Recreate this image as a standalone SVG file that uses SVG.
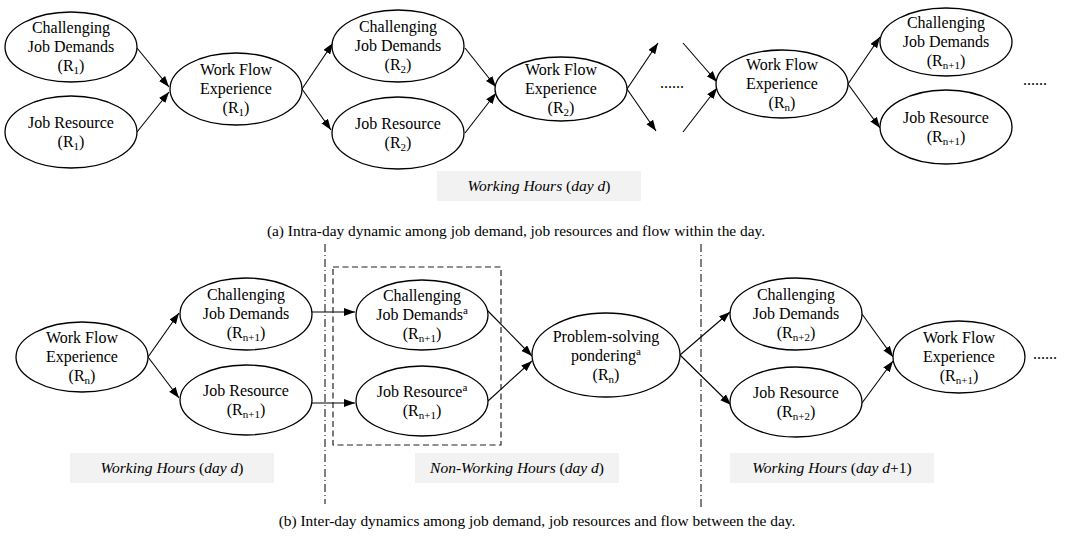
<svg xmlns="http://www.w3.org/2000/svg" width="1070" height="536" viewBox="0 0 1070 536">
<style>
.n{fill:#fff;stroke:#000;stroke-width:1.3}
.t{font-family:'Liberation Serif',Tinos,'Times New Roman','DejaVu Serif',serif;font-size:16px;text-anchor:middle;fill:#000}
.s{font-size:11px}
.c{stroke:#000;stroke-width:1.1;fill:none;marker-end:url(#ah)}
.box{fill:#f2f2f2}
.bt{font-family:'Liberation Serif',Tinos,'Times New Roman','DejaVu Serif',serif;font-size:15.5px;text-anchor:middle;fill:#000}
.i{font-style:italic}
.cap{font-family:'Liberation Serif',Tinos,'Times New Roman','DejaVu Serif',serif;font-size:15.4px;text-anchor:middle;fill:#000}
.dd{stroke:#000;stroke-width:1;stroke-dasharray:8 3 1 3;fill:none}
.dash{stroke:#222;stroke-width:1.2;stroke-dasharray:6 3.5;fill:none}
.dots{font-family:'Liberation Serif',Tinos,'Times New Roman','DejaVu Serif',serif;font-size:16px;fill:#000}
</style>
<defs>
<marker id="ah" markerUnits="userSpaceOnUse" markerWidth="12" markerHeight="10" refX="11" refY="4" orient="auto">
<path d="M0,0 L11,4 L0,8 Z" fill="#000"/>
</marker>
</defs>

<g id="connectors">
<line class="c" x1="137" y1="48" x2="169" y2="87"/>
<line class="c" x1="137" y1="132" x2="169" y2="92"/>
<line class="c" x1="302" y1="89" x2="333" y2="43"/>
<line class="c" x1="302" y1="89" x2="331" y2="130"/>
<line class="c" x1="465" y1="48" x2="496" y2="87"/>
<line class="c" x1="465" y1="133" x2="496" y2="93"/>
<line class="c" x1="627" y1="89" x2="658" y2="43"/>
<line class="c" x1="627" y1="89" x2="656" y2="131"/>
<line class="c" x1="683" y1="43" x2="717" y2="82"/>
<line class="c" x1="683" y1="132" x2="717" y2="88"/>
<line class="c" x1="848" y1="84" x2="880" y2="37"/>
<line class="c" x1="848" y1="84" x2="880" y2="128"/>

<line class="c" x1="148" y1="357" x2="179" y2="313"/>
<line class="c" x1="148" y1="357" x2="179" y2="398"/>
<line class="c" x1="312" y1="312" x2="355" y2="312"/>
<line class="c" x1="312" y1="403" x2="355" y2="403"/>
<line class="c" x1="487" y1="310" x2="532" y2="356"/>
<line class="c" x1="488" y1="401" x2="532" y2="361"/>
<line class="c" x1="680" y1="355" x2="730" y2="312"/>
<line class="c" x1="680" y1="355" x2="731" y2="405"/>
<line class="c" x1="862" y1="314" x2="893" y2="357"/>
<line class="c" x1="862" y1="403" x2="893" y2="361"/>
</g>

<g id="separators">
<line class="dd" x1="325" y1="244" x2="325" y2="504"/>
<line class="dd" x1="701" y1="244" x2="701" y2="507"/>
<rect class="dash" x="333" y="267" width="168" height="178"/>
</g>

<!-- Top row -->
<g id="cjd-r1"><ellipse class="n" cx="71" cy="47" rx="66" ry="35"/>
<text class="t" x="71" y="33">Challenging</text><text class="t" x="71" y="52">Job Demands</text>
<text class="t" x="71" y="71">(R<tspan class="s" dy="3">1</tspan><tspan dy="-3">)</tspan></text></g>
<g id="jr-r1"><ellipse class="n" cx="71" cy="132" rx="66" ry="36"/>
<text class="t" x="71" y="128">Job Resource</text>
<text class="t" x="71" y="147">(R<tspan class="s" dy="3">1</tspan><tspan dy="-3">)</tspan></text></g>
<g id="wfe-r1"><ellipse class="n" cx="236" cy="89" rx="66" ry="36"/>
<text class="t" x="236" y="75">Work Flow</text><text class="t" x="236" y="94">Experience</text>
<text class="t" x="236" y="113">(R<tspan class="s" dy="3">1</tspan><tspan dy="-3">)</tspan></text></g>

<g id="cjd-r2"><ellipse class="n" cx="398" cy="46" rx="66" ry="36"/>
<text class="t" x="398" y="32">Challenging</text><text class="t" x="398" y="51">Job Demands</text>
<text class="t" x="398" y="70">(R<tspan class="s" dy="3">2</tspan><tspan dy="-3">)</tspan></text></g>
<g id="jr-r2"><ellipse class="n" cx="398" cy="133" rx="66" ry="36"/>
<text class="t" x="398" y="129">Job Resource</text>
<text class="t" x="398" y="148">(R<tspan class="s" dy="3">2</tspan><tspan dy="-3">)</tspan></text></g>
<g id="wfe-r2"><ellipse class="n" cx="561" cy="89" rx="66" ry="32"/>
<text class="t" x="561" y="75">Work Flow</text><text class="t" x="561" y="94">Experience</text>
<text class="t" x="561" y="113">(R<tspan class="s" dy="3">2</tspan><tspan dy="-3">)</tspan></text></g>

<text class="dots" x="660" y="88">......</text>

<g id="wfe-rn"><ellipse class="n" cx="782" cy="84" rx="66" ry="34"/>
<text class="t" x="782" y="70">Work Flow</text><text class="t" x="782" y="89">Experience</text>
<text class="t" x="782" y="108">(R<tspan class="s" dy="3">n</tspan><tspan dy="-3">)</tspan></text></g>
<g id="cjd-rn1"><ellipse class="n" cx="946" cy="42" rx="66" ry="34"/>
<text class="t" x="946" y="28">Challenging</text><text class="t" x="946" y="47">Job Demands</text>
<text class="t" x="946" y="66">(R<tspan class="s" dy="3">n+1</tspan><tspan dy="-3">)</tspan></text></g>
<g id="jr-rn1"><ellipse class="n" cx="946" cy="127" rx="66" ry="37"/>
<text class="t" x="946" y="123">Job Resource</text>
<text class="t" x="946" y="142">(R<tspan class="s" dy="3">n+1</tspan><tspan dy="-3">)</tspan></text></g>

<text class="dots" x="1023" y="85">......</text>

<g id="label-top"><rect class="box" x="437" y="171" width="204" height="30"/>
<text class="bt" x="539" y="191"><tspan class="i">Working Hours </tspan>(<tspan class="i">day d</tspan>)</text></g>
<text class="cap" x="516" y="236">(a) Intra-day dynamic among job demand, job resources and flow within the day.</text>

<!-- Bottom row -->
<g id="b-wfe-rn"><ellipse class="n" cx="82" cy="357" rx="66" ry="35"/>
<text class="t" x="82" y="343">Work Flow</text><text class="t" x="82" y="362">Experience</text>
<text class="t" x="82" y="381">(R<tspan class="s" dy="3">n</tspan><tspan dy="-3">)</tspan></text></g>
<g id="b-cjd-rn1"><ellipse class="n" cx="246" cy="314" rx="66" ry="36"/>
<text class="t" x="246" y="300">Challenging</text><text class="t" x="246" y="319">Job Demands</text>
<text class="t" x="246" y="338">(R<tspan class="s" dy="3">n+1</tspan><tspan dy="-3">)</tspan></text></g>
<g id="b-jr-rn1"><ellipse class="n" cx="246" cy="400" rx="66" ry="35"/>
<text class="t" x="246" y="396">Job Resource</text>
<text class="t" x="246" y="415">(R<tspan class="s" dy="3">n+1</tspan><tspan dy="-3">)</tspan></text></g>

<g id="b-cjda"><ellipse class="n" cx="422" cy="315" rx="66" ry="35"/>
<text class="t" x="422" y="301">Challenging</text><text class="t" x="422" y="320">Job Demands<tspan class="s" dy="-6">a</tspan></text>
<text class="t" x="422" y="339">(R<tspan class="s" dy="3">n+1</tspan><tspan dy="-3">)</tspan></text></g>
<g id="b-jra"><ellipse class="n" cx="422" cy="401" rx="66" ry="35"/>
<text class="t" x="422" y="397">Job Resource<tspan class="s" dy="-6">a</tspan></text>
<text class="t" x="422" y="416">(R<tspan class="s" dy="3">n+1</tspan><tspan dy="-3">)</tspan></text></g>

<g id="b-psp"><ellipse class="n" cx="606" cy="355" rx="74" ry="42"/>
<text class="t" x="606" y="342">Problem-solving</text><text class="t" x="606" y="361">pondering<tspan class="s" dy="-6">a</tspan></text>
<text class="t" x="606" y="380">(R<tspan class="s" dy="3">n</tspan><tspan dy="-3">)</tspan></text></g>

<g id="b-cjd-rn2"><ellipse class="n" cx="796" cy="314" rx="66" ry="36"/>
<text class="t" x="796" y="300">Challenging</text><text class="t" x="796" y="319">Job Demands</text>
<text class="t" x="796" y="338">(R<tspan class="s" dy="3">n+2</tspan><tspan dy="-3">)</tspan></text></g>
<g id="b-jr-rn2"><ellipse class="n" cx="796" cy="402" rx="66" ry="35"/>
<text class="t" x="796" y="398">Job Resource</text>
<text class="t" x="796" y="417">(R<tspan class="s" dy="3">n+2</tspan><tspan dy="-3">)</tspan></text></g>
<g id="b-wfe-rn1"><ellipse class="n" cx="959" cy="357" rx="66" ry="36"/>
<text class="t" x="959" y="343">Work Flow</text><text class="t" x="959" y="362">Experience</text>
<text class="t" x="959" y="381">(R<tspan class="s" dy="3">n+1</tspan><tspan dy="-3">)</tspan></text></g>

<text class="dots" x="1033" y="359">......</text>

<g id="label-b1"><rect class="box" x="70" y="453" width="204" height="30"/>
<text class="bt" x="172" y="473"><tspan class="i">Working Hours </tspan>(<tspan class="i">day d</tspan>)</text></g>
<g id="label-b2"><rect class="box" x="415" y="453" width="204" height="30"/>
<text class="bt" x="517" y="473"><tspan class="i">Non-Working Hours </tspan>(<tspan class="i">day d</tspan>)</text></g>
<g id="label-b3"><rect class="box" x="730" y="453" width="204" height="30"/>
<text class="bt" x="832" y="473"><tspan class="i">Working Hours </tspan>(<tspan class="i">day d</tspan>+1)</text></g>
<text class="cap" x="537" y="526">(b) Inter-day dynamics among job demand, job resources and flow between the day.</text>
</svg>
